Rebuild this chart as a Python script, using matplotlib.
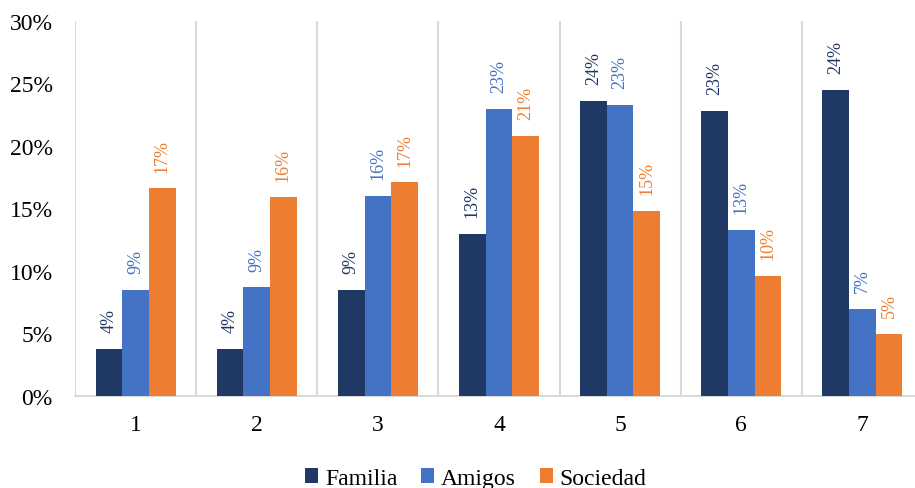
import matplotlib.pyplot as plt
import numpy as np

plt.rcParams['font.family'] = ['Liberation Serif', 'DejaVu Serif']

grupos = ['1', '2', '3', '4', '5', '6', '7']
familia = [3.8, 3.8, 8.5, 13.0, 23.6, 22.8, 24.5]
amigos = [8.5, 8.7, 16.0, 23.0, 23.3, 13.3, 7.0]
sociedad = [16.6, 15.9, 17.1, 20.8, 14.8, 9.6, 5.0]
etiquetas_fam = ['4%', '4%', '9%', '13%', '24%', '23%', '24%']
etiquetas_ami = ['9%', '9%', '16%', '23%', '23%', '13%', '7%']
etiquetas_soc = ['17%', '16%', '17%', '21%', '15%', '10%', '5%']

colores = ['#203864', '#4472C4', '#ED7D31']

fig = plt.figure(figsize=(9.15, 4.89), dpi=100)
ax = fig.add_axes([75/915, 1 - 397/489, (923 - 75)/915, (397 - 22)/489])

x = np.arange(len(grupos))
w = 0.22
series = [('Familia', familia, etiquetas_fam),
          ('Amigos', amigos, etiquetas_ami),
          ('Sociedad', sociedad, etiquetas_soc)]

for k, (nombre, vals, etiq) in enumerate(series):
    pos = x + (k - 1) * w
    ax.bar(pos, vals, width=w, color=colores[k], label=nombre, zorder=3)
    for p, v, t in zip(pos, vals, etiq):
        ax.annotate(t, (p, v), xytext=(0, 12), textcoords='offset points',
                    rotation=90, ha='center', va='bottom',
                    color=colores[k], fontsize=13)

# lineas verticales entre grupos
for b in np.arange(-0.5, len(grupos), 1.0):
    ax.axvline(b, color='#d9d9d9', lw=1.5, zorder=1)

ax.set_xlim(-0.5, len(grupos) - 0.5)
ax.set_ylim(0, 30)
ax.set_yticks(range(0, 31, 5))
ax.set_yticklabels([f'{v}%' for v in range(0, 31, 5)], fontsize=17)
ax.set_xticks(x)
ax.set_xticklabels(grupos, fontsize=17)
ax.tick_params(axis='x', length=0, pad=13)
ax.tick_params(axis='y', length=0, pad=16)

for s in ['top', 'right', 'left']:
    ax.spines[s].set_visible(False)
ax.spines['bottom'].set_color('#d9d9d9')
ax.spines['bottom'].set_linewidth(1.5)

fig.legend(loc='lower center', bbox_to_anchor=(0.52, -0.045), ncol=3,
           frameon=False, fontsize=17, handlelength=0.55, handleheight=0.55,
           handletextpad=0.3, columnspacing=1.0)

fig.savefig('out.png', dpi=100)
